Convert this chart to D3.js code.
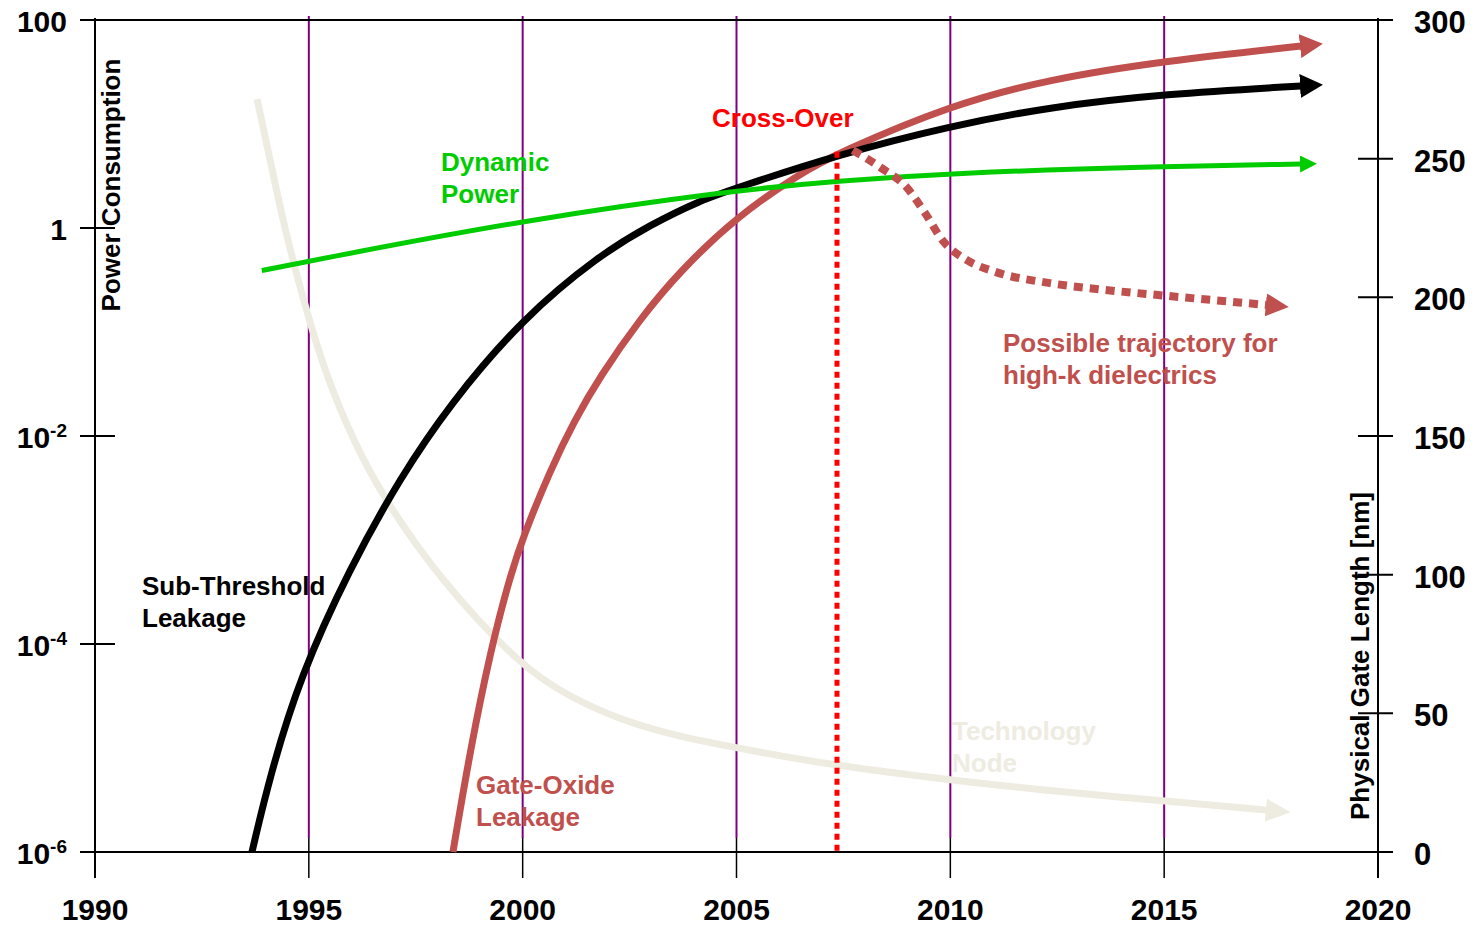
<!DOCTYPE html>
<html>
<head>
<meta charset="utf-8">
<script src="https://cdn.jsdelivr.net/npm/d3@7"></script>
<style>
  body { margin: 0; background: #fff; }
  svg { display: block; }
  text { font-family: "Liberation Sans", Arial, sans-serif; font-weight: bold; }
</style>
</head>
<body>
<svg id="chart" width="1476" height="928"></svg>
<script>
// ---- axis ticks ----
const yearTicks = [1990, 1995, 2000, 2005, 2010, 2015, 2020];
const gridYears = [1995, 2000, 2005, 2010, 2015];
const powerTicks = [100, 1, 1e-2, 1e-4, 1e-6];
const powerTickBase = ["100", "1", "10", "10", "10"];
const powerTickExp = ["", "", "-2", "-4", "-6"];
const gateTicks = [0, 50, 100, 150, 200, 250, 300];

// ---- Sub-threshold leakage power ----
const subYears = [1993.67, 1994.09, 1994.79, 1995.96, 1997.13, 1998.3, 2000.0, 2001.8, 2002.98, 2004.15, 2005.0, 2007.35, 2010.0, 2012.33, 2015.0, 2018.2];
const subPower = [1e-6, 5.38e-6, 4.82e-5, 5.38e-4, 3.94e-3, 2.03e-2, 0.136, 0.55, 1.07, 1.84, 2.43, 5.04, 9.57, 14.6, 19.4, 23.2];

// ---- Gate-oxide leakage power ----
const gateYears = [1998.37, 1998.77, 1999.24, 1999.7, 2000.0, 2000.64, 2001.22, 2001.8, 2002.74, 2003.68, 2005.0, 2006.48, 2007.35, 2010.0, 2012.33, 2015.0, 2018.2];
const gatePower = [1e-6, 9.35e-6, 8.38e-5, 4.41e-4, 1.045e-3, 4.66e-3, 1.43e-2, 3.69e-2, 0.133, 0.386, 1.28, 3.34, 5.2, 15.2, 27.1, 40.4, 56.2];

// ---- Dynamic power ----
const dynYears = [1993.9, 1995, 2000, 2005, 2007.35, 2010, 2015, 2018.2];
const dynPower = [0.39, 0.48, 1.19, 2.32, 2.83, 3.38, 3.94, 4.12];

// ---- Gate leakage with high-k dielectrics ----
const highKYears = [2007.72, 2008.35, 2008.99, 2009.41, 2009.83, 2010.39, 2011.04, 2012.33, 2013.5, 2015.0, 2017.4];
const highKPower = [5.6, 3.86, 2.43, 1.39, 0.75, 0.49, 0.38, 0.295, 0.257, 0.224, 0.182];

// ---- Technology node: physical gate length (nm) ----
const nodeYears = [1993.79, 1994.12, 1994.44, 1994.91, 1995.38, 1996.08, 1996.78, 1998.07, 2000.0, 2001.11, 2002.28, 2003.68, 2005.0, 2007.35, 2010.0, 2012.33, 2015.0, 2017.4];
const nodeLength = [271.5, 247.7, 224.3, 196.9, 172.7, 146.8, 126.9, 98.1, 66.3, 55.9, 47.6, 41.5, 37.5, 31.0, 26.0, 22.0, 18.4, 15.1];

// ---- Cross-over point ----
const crossYear = 2007.35;
const crossPower = 5.4;

const svg = d3.select("#chart");
const x = d3.scaleLinear().domain([1990, 2020]).range([95, 1378]);
const yP = d3.scaleLog().domain([1e-6, 100]).range([852, 20]);
const yL = d3.scaleLinear().domain([0, 300]).range([852, 20]);

const zip = (a, b) => a.map((v, i) => [v, b[i]]);
const powerLine = d3.line().x(d => x(d[0])).y(d => yP(d[1])).curve(d3.curveBasis);
const trajLine = d3.line().x(d => x(d[0])).y(d => yP(d[1])).curve(d3.curveMonotoneX);
const lengthLine = d3.line().x(d => x(d[0])).y(d => yL(d[1])).curve(d3.curveBasis);

// arrowheads
const defs = svg.append("defs");
function arrow(id, color, L, W) {
  defs.append("marker")
    .attr("id", id)
    .attr("markerUnits", "userSpaceOnUse")
    .attr("markerWidth", L).attr("markerHeight", W)
    .attr("viewBox", `0 ${-W / 2} ${L} ${W}`)
    .attr("refX", 1).attr("refY", 0)
    .attr("orient", "auto")
    .append("path")
    .attr("d", `M0,${-W / 2}L${L},0L0,${W / 2}Z`)
    .attr("fill", color);
}
arrow("arBlack", "#000000", 23, 24);
arrow("arRed", "#C0504D", 23, 24);
arrow("arGreen", "#00CC00", 17, 17);
arrow("arNode", "#EEECE1", 25, 23);
arrow("arHighK", "#C0504D", 23, 23);

// purple year gridlines
svg.append("g").selectAll("line").data(gridYears).join("line")
  .attr("x1", d => x(d)).attr("x2", d => x(d))
  .attr("y1", 16).attr("y2", 838)
  .attr("stroke", "#7F007F").attr("stroke-width", 2);

// frame and axes
const axes = svg.append("g").attr("stroke", "#000").attr("stroke-width", 2);
axes.append("line").attr("x1", 80).attr("x2", 1393).attr("y1", yP(100)).attr("y2", yP(100));
axes.append("line").attr("x1", 80).attr("x2", 1393).attr("y1", yP(1e-6)).attr("y2", yP(1e-6));
axes.append("line").attr("x1", x(1990)).attr("x2", x(1990)).attr("y1", 18).attr("y2", 878);
axes.append("line").attr("x1", x(2020)).attr("x2", x(2020)).attr("y1", 18).attr("y2", 878);
axes.append("g").selectAll("line").data(gridYears).join("line")
  .attr("x1", d => x(d)).attr("x2", d => x(d)).attr("y1", 838).attr("y2", 878)
  .attr("stroke-width", 1.5);
axes.append("g").selectAll("line").data(powerTicks.slice(1, 4)).join("line")
  .attr("x1", 80).attr("x2", 115).attr("y1", d => yP(d)).attr("y2", d => yP(d));
axes.append("g").selectAll("line").data(gateTicks.slice(1, 6)).join("line")
  .attr("x1", 1358).attr("x2", 1393).attr("y1", d => yL(d)).attr("y2", d => yL(d));

// tick labels
const leftLab = svg.append("g").selectAll("text").data(powerTicks).join("text")
  .attr("x", 67).attr("y", d => yP(d) + 12)
  .attr("text-anchor", "end").attr("font-size", 30).attr("fill", "#000");
leftLab.append("tspan").text((d, i) => powerTickBase[i]);
leftLab.append("tspan").attr("font-size", 19).attr("dy", -11).text((d, i) => powerTickExp[i]);

svg.append("g").selectAll("text").data(yearTicks).join("text")
  .attr("x", d => x(d)).attr("y", 920)
  .attr("text-anchor", "middle").attr("font-size", 30).attr("fill", "#000")
  .text(d => d);

svg.append("g").selectAll("text").data(gateTicks).join("text")
  .attr("x", 1414).attr("y", d => yL(d) + 13)
  .attr("font-size", 31).attr("fill", "#000")
  .text(d => d);

// axis titles
svg.append("text").attr("transform", "translate(120,185) rotate(-90)")
  .attr("text-anchor", "middle").attr("font-size", 26).attr("fill", "#000")
  .text("Power Consumption");
svg.append("text").attr("transform", "translate(1369,656) rotate(-90)")
  .attr("text-anchor", "middle").attr("font-size", 26).attr("fill", "#000")
  .text("Physical Gate Length [nm]");

// curves
svg.append("path").attr("d", lengthLine(zip(nodeYears, nodeLength)))
  .attr("fill", "none").attr("stroke", "#EEECE1").attr("stroke-width", 7)
  .attr("marker-end", "url(#arNode)");
svg.append("path").attr("d", powerLine(zip(gateYears, gatePower)))
  .attr("fill", "none").attr("stroke", "#C0504D").attr("stroke-width", 7)
  .attr("marker-end", "url(#arRed)");
svg.append("path").attr("d", powerLine(zip(subYears, subPower)))
  .attr("fill", "none").attr("stroke", "#000000").attr("stroke-width", 7)
  .attr("marker-end", "url(#arBlack)");
svg.append("path").attr("d", powerLine(zip(dynYears, dynPower)))
  .attr("fill", "none").attr("stroke", "#00CC00").attr("stroke-width", 5)
  .attr("marker-end", "url(#arGreen)");
svg.append("path").attr("d", trajLine(zip(highKYears, highKPower)))
  .attr("fill", "none").attr("stroke", "#C0504D").attr("stroke-width", 8)
  .attr("stroke-dasharray", "9,7")
  .attr("marker-end", "url(#arHighK)");

// cross-over marker line
svg.append("line")
  .attr("x1", x(crossYear)).attr("x2", x(crossYear))
  .attr("y1", yP(crossPower)).attr("y2", yP(1e-6))
  .attr("stroke", "#FF0000").attr("stroke-width", 5).attr("stroke-dasharray", "6,5");

// annotations
function note(lines, px, py, color) {
  const t = svg.append("text").attr("font-size", 26).attr("fill", color);
  lines.forEach((s, i) => t.append("tspan").attr("x", px).attr("y", py + i * 32).text(s));
}
note(["Cross-Over"], 712, 127, "#FF0000");
note(["Dynamic", "Power"], 441, 171, "#00CC00");
note(["Possible trajectory for", "high-k dielectrics"], 1003, 352, "#C0504D");
note(["Sub-Threshold", "Leakage"], 142, 595, "#000000");
note(["Gate-Oxide", "Leakage"], 476, 794, "#C0504D");
note(["Technology", "Node"], 952, 740, "#EEECE1");
</script>
</body>
</html>
